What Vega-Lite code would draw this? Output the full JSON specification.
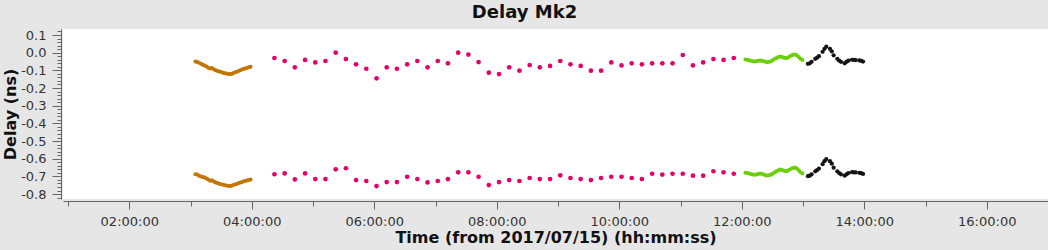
{
"$schema": "https://vega.github.io/schema/vega-lite/v6.json",
"width": 985, "height": 170,
"autosize": "none",
"padding": {"left": 63, "top": 29, "right": 0, "bottom": 51},
"background": "#e6e6e6",
"view": {"fill": "white", "stroke": null},
"title": {"text": "Delay Mk2", "font": "DejaVu Sans", "fontSize": 18, "fontWeight": "bold", "color": "#111111", "anchor": "middle", "offset": 3, "dx": -31},
"datasets": {
"brown": [
{"t":3.08,"d":-0.050},{"t":3.11,"d":-0.053},{"t":3.14,"d":-0.057},{"t":3.17,"d":-0.063},{"t":3.20,"d":-0.068},{"t":3.23,"d":-0.072},{"t":3.26,"d":-0.078},{"t":3.29,"d":-0.085},{"t":3.32,"d":-0.090},{"t":3.35,"d":-0.087},{"t":3.38,"d":-0.094},{"t":3.41,"d":-0.100},{"t":3.44,"d":-0.104},{"t":3.47,"d":-0.107},{"t":3.50,"d":-0.110},{"t":3.53,"d":-0.113},{"t":3.56,"d":-0.116},{"t":3.59,"d":-0.118},{"t":3.62,"d":-0.120},{"t":3.65,"d":-0.121},{"t":3.68,"d":-0.119},{"t":3.71,"d":-0.114},{"t":3.74,"d":-0.110},{"t":3.77,"d":-0.107},{"t":3.80,"d":-0.101},{"t":3.83,"d":-0.097},{"t":3.86,"d":-0.093},{"t":3.89,"d":-0.090},{"t":3.92,"d":-0.086},{"t":3.95,"d":-0.082},{"t":3.98,"d":-0.079},
{"t":3.08,"d":-0.688},{"t":3.11,"d":-0.690},{"t":3.14,"d":-0.697},{"t":3.17,"d":-0.700},{"t":3.20,"d":-0.703},{"t":3.23,"d":-0.707},{"t":3.26,"d":-0.712},{"t":3.29,"d":-0.718},{"t":3.32,"d":-0.725},{"t":3.35,"d":-0.722},{"t":3.38,"d":-0.729},{"t":3.41,"d":-0.735},{"t":3.44,"d":-0.738},{"t":3.47,"d":-0.741},{"t":3.50,"d":-0.744},{"t":3.53,"d":-0.747},{"t":3.56,"d":-0.750},{"t":3.59,"d":-0.752},{"t":3.62,"d":-0.754},{"t":3.65,"d":-0.755},{"t":3.68,"d":-0.752},{"t":3.71,"d":-0.748},{"t":3.74,"d":-0.744},{"t":3.77,"d":-0.740},{"t":3.80,"d":-0.736},{"t":3.83,"d":-0.733},{"t":3.86,"d":-0.729},{"t":3.89,"d":-0.726},{"t":3.92,"d":-0.723},{"t":3.95,"d":-0.720},{"t":3.98,"d":-0.717}
],
"pink": [
{"t":4.37,"d":-0.030},{"t":4.537,"d":-0.047},{"t":4.703,"d":-0.083},{"t":4.87,"d":-0.041},{"t":5.037,"d":-0.055},{"t":5.203,"d":-0.047},{"t":5.37,"d":0.000},{"t":5.537,"d":-0.036},{"t":5.703,"d":-0.066},{"t":5.87,"d":-0.091},{"t":6.037,"d":-0.145},{"t":6.203,"d":-0.083},{"t":6.37,"d":-0.091},{"t":6.537,"d":-0.066},{"t":6.703,"d":-0.047},{"t":6.87,"d":-0.083},{"t":7.037,"d":-0.047},{"t":7.203,"d":-0.060},{"t":7.37,"d":0.000},{"t":7.537,"d":-0.011},{"t":7.703,"d":-0.053},{"t":7.87,"d":-0.113},{"t":8.037,"d":-0.121},{"t":8.203,"d":-0.083},{"t":8.37,"d":-0.102},{"t":8.537,"d":-0.070},{"t":8.703,"d":-0.083},{"t":8.87,"d":-0.075},{"t":9.037,"d":-0.047},{"t":9.203,"d":-0.066},{"t":9.37,"d":-0.075},{"t":9.537,"d":-0.102},{"t":9.703,"d":-0.102},{"t":9.87,"d":-0.055},{"t":10.037,"d":-0.072},{"t":10.203,"d":-0.060},{"t":10.37,"d":-0.066},{"t":10.537,"d":-0.060},{"t":10.703,"d":-0.060},{"t":10.87,"d":-0.060},{"t":11.037,"d":-0.013},{"t":11.203,"d":-0.072},{"t":11.37,"d":-0.055},{"t":11.537,"d":-0.036},{"t":11.703,"d":-0.041},{"t":11.87,"d":-0.030},
{"t":4.37,"d":-0.688},{"t":4.537,"d":-0.683},{"t":4.703,"d":-0.717},{"t":4.87,"d":-0.683},{"t":5.037,"d":-0.715},{"t":5.203,"d":-0.715},{"t":5.37,"d":-0.660},{"t":5.537,"d":-0.654},{"t":5.703,"d":-0.721},{"t":5.87,"d":-0.726},{"t":6.037,"d":-0.755},{"t":6.203,"d":-0.732},{"t":6.37,"d":-0.732},{"t":6.537,"d":-0.702},{"t":6.703,"d":-0.715},{"t":6.87,"d":-0.734},{"t":7.037,"d":-0.726},{"t":7.203,"d":-0.715},{"t":7.37,"d":-0.677},{"t":7.537,"d":-0.677},{"t":7.703,"d":-0.702},{"t":7.87,"d":-0.749},{"t":8.037,"d":-0.732},{"t":8.203,"d":-0.721},{"t":8.37,"d":-0.726},{"t":8.537,"d":-0.709},{"t":8.703,"d":-0.715},{"t":8.87,"d":-0.715},{"t":9.037,"d":-0.694},{"t":9.203,"d":-0.709},{"t":9.37,"d":-0.715},{"t":9.537,"d":-0.721},{"t":9.703,"d":-0.709},{"t":9.87,"d":-0.702},{"t":10.037,"d":-0.702},{"t":10.203,"d":-0.709},{"t":10.37,"d":-0.715},{"t":10.537,"d":-0.685},{"t":10.703,"d":-0.690},{"t":10.87,"d":-0.685},{"t":11.037,"d":-0.685},{"t":11.203,"d":-0.696},{"t":11.37,"d":-0.696},{"t":11.537,"d":-0.671},{"t":11.703,"d":-0.677},{"t":11.87,"d":-0.685}
],
"green": [
{"t":12.06,"d":-0.038},{"t":12.09,"d":-0.040},{"t":12.12,"d":-0.043},{"t":12.15,"d":-0.046},{"t":12.18,"d":-0.048},{"t":12.21,"d":-0.050},{"t":12.24,"d":-0.049},{"t":12.27,"d":-0.046},{"t":12.30,"d":-0.044},{"t":12.33,"d":-0.046},{"t":12.36,"d":-0.049},{"t":12.39,"d":-0.052},{"t":12.42,"d":-0.054},{"t":12.45,"d":-0.052},{"t":12.48,"d":-0.048},{"t":12.51,"d":-0.042},{"t":12.54,"d":-0.035},{"t":12.57,"d":-0.030},{"t":12.60,"d":-0.025},{"t":12.63,"d":-0.022},{"t":12.66,"d":-0.024},{"t":12.69,"d":-0.028},{"t":12.72,"d":-0.030},{"t":12.75,"d":-0.028},{"t":12.78,"d":-0.022},{"t":12.81,"d":-0.016},{"t":12.84,"d":-0.012},{"t":12.87,"d":-0.010},{"t":12.90,"d":-0.014},{"t":12.93,"d":-0.024},{"t":12.96,"d":-0.035},{"t":12.99,"d":-0.042},
{"t":12.06,"d":-0.679},{"t":12.09,"d":-0.681},{"t":12.12,"d":-0.684},{"t":12.15,"d":-0.687},{"t":12.18,"d":-0.689},{"t":12.21,"d":-0.691},{"t":12.24,"d":-0.690},{"t":12.27,"d":-0.687},{"t":12.30,"d":-0.684},{"t":12.33,"d":-0.686},{"t":12.36,"d":-0.690},{"t":12.39,"d":-0.693},{"t":12.42,"d":-0.695},{"t":12.45,"d":-0.693},{"t":12.48,"d":-0.689},{"t":12.51,"d":-0.683},{"t":12.54,"d":-0.676},{"t":12.57,"d":-0.670},{"t":12.60,"d":-0.665},{"t":12.63,"d":-0.661},{"t":12.66,"d":-0.664},{"t":12.69,"d":-0.668},{"t":12.72,"d":-0.671},{"t":12.75,"d":-0.668},{"t":12.78,"d":-0.662},{"t":12.81,"d":-0.656},{"t":12.84,"d":-0.652},{"t":12.87,"d":-0.650},{"t":12.90,"d":-0.655},{"t":12.93,"d":-0.665},{"t":12.96,"d":-0.676},{"t":12.99,"d":-0.683}
],
"black": [
{"t":13.08,"d":-0.063},{"t":13.11,"d":-0.060},{"t":13.14,"d":-0.052},{"t":13.20,"d":-0.035},{"t":13.23,"d":-0.028},{"t":13.26,"d":-0.020},{"t":13.32,"d":0.005},{"t":13.35,"d":0.022},{"t":13.38,"d":0.034},{"t":13.44,"d":0.022},{"t":13.47,"d":0.008},{"t":13.50,"d":-0.015},{"t":13.56,"d":-0.035},{"t":13.59,"d":-0.045},{"t":13.62,"d":-0.052},{"t":13.68,"d":-0.060},{"t":13.71,"d":-0.052},{"t":13.74,"d":-0.045},{"t":13.80,"d":-0.040},{"t":13.83,"d":-0.041},{"t":13.86,"d":-0.042},{"t":13.92,"d":-0.044},{"t":13.95,"d":-0.046},{"t":13.98,"d":-0.050},
{"t":13.08,"d":-0.699},{"t":13.11,"d":-0.696},{"t":13.14,"d":-0.688},{"t":13.20,"d":-0.671},{"t":13.23,"d":-0.664},{"t":13.26,"d":-0.656},{"t":13.32,"d":-0.631},{"t":13.35,"d":-0.614},{"t":13.38,"d":-0.602},{"t":13.44,"d":-0.614},{"t":13.47,"d":-0.628},{"t":13.50,"d":-0.651},{"t":13.56,"d":-0.671},{"t":13.59,"d":-0.681},{"t":13.62,"d":-0.688},{"t":13.68,"d":-0.696},{"t":13.71,"d":-0.688},{"t":13.74,"d":-0.681},{"t":13.80,"d":-0.676},{"t":13.83,"d":-0.677},{"t":13.86,"d":-0.678},{"t":13.92,"d":-0.680},{"t":13.95,"d":-0.682},{"t":13.98,"d":-0.686}
]
},
"encoding": {
  "x": {"field": "t", "type": "quantitative",
    "scale": {"domain": [0.918, 17.0], "nice": false, "zero": false},
    "axis": {"values": [1,2,3,4,5,6,7,8,9,10,11,12,13,14,15,16],
      "labelExpr": "datum.value % 2 == 0 ? (datum.value < 10 ? '0' : '') + datum.value + ':00:00' : ''",
      "tickSize": {"condition": {"test": "datum.value % 2 == 0", "value": 8}, "value": 5},
      "labelOverlap": false, "grid": false, "offset": 2,
      "domainColor": "#666666", "tickColor": "#666666",
      "labelFont": "DejaVu Sans", "labelFontSize": 13, "labelColor": "#333333", "labelPadding": 6,
      "title": "Time (from 2017/07/15) (hh:mm:ss)", "titleFont": "DejaVu Sans", "titleFontSize": 16, "titleFontWeight": "bold", "titleColor": "#111111", "titlePadding": 1}},
  "y": {"field": "d", "type": "quantitative",
    "scale": {"domain": [-0.828, 0.134], "nice": false, "zero": false},
    "axis": {"values": [-0.82,-0.8,-0.78,-0.76,-0.74,-0.72,-0.7,-0.68,-0.66,-0.64,-0.62,-0.6,-0.58,-0.56,-0.54,-0.52,-0.5,-0.48,-0.46,-0.44,-0.42,-0.4,-0.38,-0.36,-0.34,-0.32,-0.3,-0.28,-0.26,-0.24,-0.22,-0.2,-0.18,-0.16,-0.14,-0.12,-0.1,-0.08,-0.06,-0.04,-0.02,0,0.02,0.04,0.06,0.08,0.1,0.12],
      "labelExpr": "abs(datum.value*10 - round(datum.value*10)) < 0.01 ? (datum.value < -0.001 ? '-' : '') + format(abs(datum.value), '.1f') : ''",
      "tickSize": {"condition": {"test": "abs(datum.value*10 - round(datum.value*10)) < 0.01", "value": 9}, "value": 4},
      "labelOverlap": false, "grid": false, "offset": 2,
      "domainColor": "#666666", "tickColor": "#666666",
      "labelFont": "DejaVu Sans", "labelFontSize": 13, "labelColor": "#333333", "labelPadding": 6,
      "title": "Delay (ns)", "titleFont": "DejaVu Sans", "titleFontSize": 16, "titleFontWeight": "bold", "titleColor": "#111111", "titlePadding": 2}},
  "color": {"field": "s", "type": "nominal", "scale": {"domain": ["a","b","c","d"], "range": ["#c27600","#e6006a","#6ccf0a","#151515"]}, "legend": null}
},
"layer": [
  {"data": {"name": "brown"}, "transform": [{"calculate": "'a'", "as": "s"}], "mark": {"type": "circle", "size": 16, "opacity": 1}},
  {"data": {"name": "pink"}, "transform": [{"calculate": "'b'", "as": "s"}], "mark": {"type": "circle", "size": 22, "opacity": 1}},
  {"data": {"name": "green"}, "transform": [{"calculate": "'c'", "as": "s"}], "mark": {"type": "circle", "size": 16, "opacity": 1}},
  {"data": {"name": "black"}, "transform": [{"calculate": "'d'", "as": "s"}], "mark": {"type": "circle", "size": 18, "opacity": 1}}
]
}
